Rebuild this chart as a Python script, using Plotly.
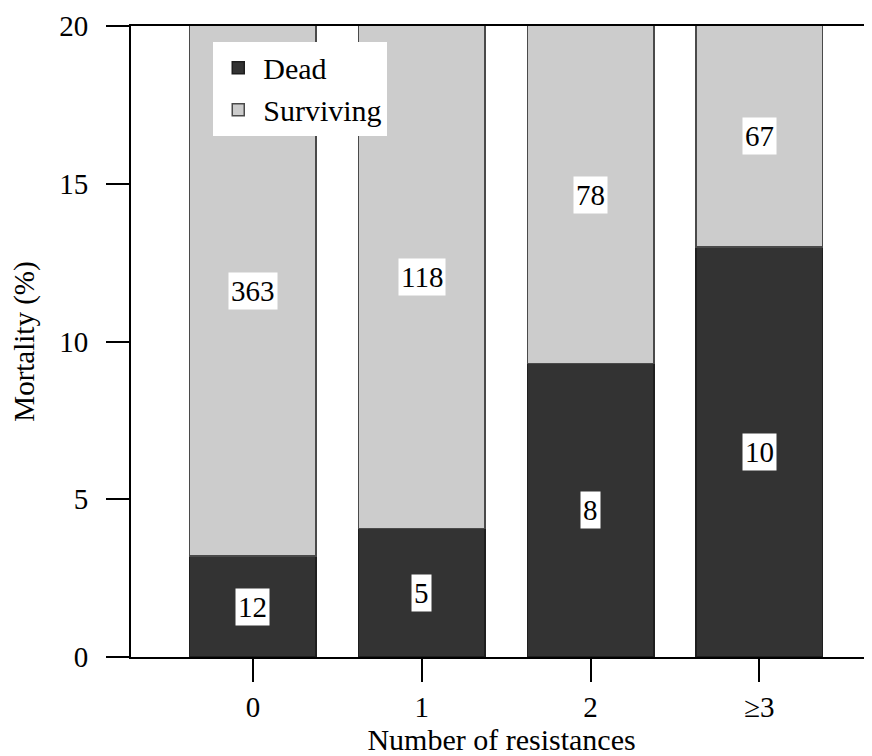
import plotly.graph_objects as go

categories = ["0", "1", "2", "≥3"]
dead_pct = [3.2, 4.07, 9.3, 13.0]
surviving_pct = [96.8, 95.93, 90.7, 87.0]
dead_n = [12, 5, 8, 10]
surviving_n = [363, 118, 78, 67]
y_ticks = [0, 5, 10, 15, 20]

Y_MAX = 20
FONT = '"Liberation Serif", "Times New Roman", "DejaVu Serif", serif'
x_idx = list(range(len(categories)))

fig = go.Figure()
fig.add_trace(go.Bar(
    name="Dead", x=x_idx, y=dead_pct, width=0.75,
    marker=dict(color="#333333", line=dict(color="#1e1e1e", width=1.5)),
    hoverinfo="skip",
))
fig.add_trace(go.Bar(
    name="Surviving", x=x_idx, y=surviving_pct, width=0.75,
    marker=dict(color="#cccccc", line=dict(color="#4a4a4a", width=1.5)),
    hoverinfo="skip",
))

# count labels centred on the visible part of each segment
for i in x_idx:
    d = dead_pct[i]
    fig.add_annotation(x=i, y=d / 2, text=str(dead_n[i]), showarrow=False,
                       bgcolor="white", borderpad=2,
                       font=dict(family=FONT, size=29, color="black"))
    fig.add_annotation(x=i, y=(d + min(d + surviving_pct[i], Y_MAX)) / 2,
                       text=str(surviving_n[i]), showarrow=False,
                       bgcolor="white", borderpad=2,
                       font=dict(family=FONT, size=29, color="black"))

# the page body has an 8px default margin, so the figure is 8px smaller
fig.update_layout(
    barmode="stack",
    width=864, height=748,
    margin=dict(l=123, r=0, t=18, b=99),
    paper_bgcolor="white", plot_bgcolor="white",
    font=dict(family=FONT, size=29, color="black"),
    showlegend=True,
    legend=dict(x=0.111, y=0.975, xanchor="left", yanchor="top",
                bgcolor="white", borderwidth=0,
                font=dict(family=FONT, size=30, color="black"),
                traceorder="normal", tracegroupgap=0,
                itemwidth=40),
    xaxis=dict(
        range=[-0.722, 3.667], automargin=False,
        tickmode="array", tickvals=x_idx, ticktext=categories,
        showline=True, linecolor="black", linewidth=2, mirror=True,
        ticks="outside", ticklen=23, tickwidth=2, tickcolor="black",
        showgrid=False, zeroline=False,
        tickfont=dict(family=FONT, size=29),
        title=dict(text="Number of resistances", standoff=4,
                   font=dict(family=FONT, size=30)),
    ),
    yaxis=dict(
        range=[0, Y_MAX], automargin=False,
        tickmode="array", tickvals=y_ticks,
        showline=True, linecolor="black", linewidth=2,
        ticks="outside", ticklen=23, tickwidth=2, tickcolor="black",
        ticklabelstandoff=12,
        showgrid=False, zeroline=False,
        tickfont=dict(family=FONT, size=29),
        title=dict(text="Mortality (%)", standoff=16,
                   font=dict(family=FONT, size=29)),
    ),
)

fig.write_html("out.html")
